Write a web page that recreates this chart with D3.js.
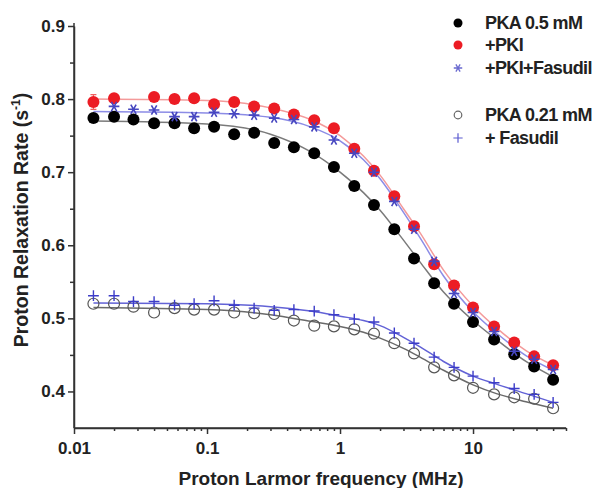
<!doctype html>
<html>
<head>
<meta charset="utf-8">
<style>
  body { margin: 0; background: #fff; }
  text { font-family: "Liberation Sans", Arial, sans-serif; font-weight: bold; fill: #222; }
  .axis path, .axis line { stroke: #333; stroke-width: 1.5; }
</style>
<script src="https://d3js.org/d3.v7.min.js"></script>
</head>
<body>
<svg width="598" height="488"></svg>
<script>
// frequencies (MHz) of the measured points
var freqs = [0.014, 0.02, 0.028, 0.04, 0.057, 0.08, 0.113, 0.16, 0.226, 0.32, 0.45, 0.64,
             0.9, 1.28, 1.8, 2.56, 3.6, 5.1, 7.2, 10, 14.4, 20.4, 28.8, 40];

// measured relaxation rates (null = no point)
var pka05   = [0.774, 0.776, 0.772, 0.767, 0.767, 0.760, 0.762, 0.752, 0.754, 0.740, 0.734, 0.726,
               0.707, 0.681, 0.655, 0.622, 0.582, 0.548, 0.520, 0.495, 0.471, 0.451, 0.434, 0.416];
var pki     = [0.796, 0.801, null, 0.803, 0.800, 0.801, 0.793, 0.796, 0.790, 0.787, 0.779, 0.771,
               0.760, 0.732, 0.702, 0.667, 0.626, 0.574, 0.545, 0.515, 0.489, 0.467, 0.448, 0.436];
var pkiErr  = [0.010, 0, 0, 0, 0, 0, 0, 0, 0, 0, 0, 0, 0, 0, 0, 0, 0, 0, 0, 0, 0, 0, 0, 0];
var pkiFas  = [null, 0.790, 0.786, 0.785, 0.776, 0.776, 0.782, 0.780, 0.778, 0.774, 0.772, 0.762,
               0.744, 0.726, 0.700, 0.660, 0.622, 0.578, 0.534, 0.508, 0.482, 0.455, 0.444, 0.430];
var pka021  = [0.520, 0.520, 0.516, 0.508, 0.514, 0.512, 0.512, 0.508, 0.507, 0.506, 0.497, 0.490,
               0.489, 0.485, 0.479, 0.466, 0.452, 0.433, 0.422, 0.405, 0.396, 0.392, 0.390, 0.377];
var fas     = [0.531, 0.531, 0.523, 0.523, 0.518, 0.520, 0.524, 0.518, 0.514, 0.511, 0.512, 0.510,
               0.505, 0.499, 0.495, 0.480, 0.466, 0.447, 0.433, 0.421, 0.412, 0.404, 0.396, 0.385];

// fitted curves
var fitFreqs  = [0.014, 0.1, 0.3, 0.6, 1, 1.5, 2, 3, 4, 6, 10, 15, 25, 40];
var fitPka05  = [0.770, 0.766, 0.752, 0.728, 0.700, 0.672, 0.648, 0.607, 0.577, 0.536, 0.497, 0.471, 0.441, 0.420];
var fitPki    = [0.800, 0.798, 0.788, 0.772, 0.750, 0.722, 0.696, 0.650, 0.617, 0.566, 0.517, 0.487, 0.456, 0.436];
var fitPkiFas = [0.783, 0.781, 0.775, 0.762, 0.743, 0.717, 0.691, 0.645, 0.610, 0.558, 0.509, 0.480, 0.449, 0.429];
var fitPka021 = [0.515, 0.512, 0.505, 0.496, 0.489, 0.481, 0.473, 0.459, 0.447, 0.429, 0.409, 0.397, 0.386, 0.377];
var fitFas    = [0.521, 0.520, 0.516, 0.510, 0.503, 0.497, 0.490, 0.474, 0.461, 0.441, 0.421, 0.410, 0.397, 0.385];

var xTicks = [0.01, 0.1, 1, 10];
var xTickLabels = ["0.01", "0.1", "1", "10"];
var yTicks = [0.4, 0.5, 0.6, 0.7, 0.8, 0.9];

var legendLabels = ["PKA 0.5 mM", "+PKI", "+PKI+Fasudil", "PKA 0.21 mM", "+ Fasudil"];

var svg = d3.select("svg");

var x = d3.scaleLog().domain([0.01, 50]).range([74, 566]);
var y = d3.scaleLinear().domain([0.35, 0.9]).range([428, 26]);

// minor ticks
var xMinor = [];
[0.01, 0.1, 1, 10].forEach(function(d) {
  for (var k = 2; k <= 9; k++) if (d * k <= 50) xMinor.push(d * k);
});
var yMinor = [0.45, 0.55, 0.65, 0.75, 0.85];

svg.append("g").attr("class", "axis")
   .attr("transform", "translate(0,428)")
   .call(d3.axisBottom(x).tickValues(xMinor).tickSize(3).tickSizeOuter(0).tickFormat(""));
var xa = svg.append("g").attr("class", "axis")
   .attr("transform", "translate(0,428)")
   .call(d3.axisBottom(x).tickValues(xTicks).tickSize(6).tickSizeOuter(0)
         .tickFormat(function(d, i) { return xTickLabels[i]; }));
xa.selectAll("text").attr("font-size", 17).attr("dy", "0.95em").attr("y", 10);
xa.select(".domain").attr("d", "M74,0H566");

svg.append("g").attr("class", "axis")
   .attr("transform", "translate(74,0)")
   .call(d3.axisLeft(y).tickValues(yMinor).tickSize(4).tickSizeOuter(0).tickFormat(""));
var ya = svg.append("g").attr("class", "axis")
   .attr("transform", "translate(74,0)")
   .call(d3.axisLeft(y).tickValues(yTicks).tickSize(6).tickSizeOuter(0).tickFormat(d3.format(".1f")));
ya.selectAll("text").attr("font-size", 17).attr("x", -9);
ya.select(".domain").attr("d", "M0,428V23");
svg.selectAll(".axis text").style("font-family", "'Liberation Sans', Arial, sans-serif").attr("fill", "#222");

// axis titles
svg.append("text")
   .attr("x", 321).attr("y", 485)
   .attr("text-anchor", "middle")
   .attr("font-size", 19)
   .text("Proton Larmor frequency (MHz)");

var yt = svg.append("text")
   .attr("transform", "translate(28,220) rotate(-90)")
   .attr("text-anchor", "middle")
   .attr("font-size", 19.5);
yt.append("tspan").text("Proton Relaxation Rate (s");
yt.append("tspan").attr("font-size", 12).attr("dy", -8).text("-1");
yt.append("tspan").attr("dy", 8).text(")");

// fitted lines
var line = d3.line()
  .x(function(d) { return x(d[0]); })
  .y(function(d) { return y(d[1]); })
  .curve(d3.curveMonotoneX);

function fitLine(vals, color) {
  svg.append("path")
     .datum(fitFreqs.map(function(f, i) { return [f, vals[i]]; }))
     .attr("d", line)
     .attr("fill", "none")
     .attr("stroke", color)
     .attr("stroke-width", 1.5);
}
fitLine(fitPka021, "#6a6a6a");
fitLine(fitFas, "#6262d6");
fitLine(fitPka05, "#7a7a7a");
fitLine(fitPki, "#f49a9a");
fitLine(fitPkiFas, "#8c8ce6");

function pts(vals) {
  return freqs.map(function(f, i) { return { f: f, v: vals[i], i: i }; })
              .filter(function(d) { return d.v !== null; });
}

// open circles
svg.append("g").selectAll("circle").data(pts(pka021)).enter().append("circle")
   .attr("cx", function(d) { return x(d.f); })
   .attr("cy", function(d) { return y(d.v); })
   .attr("r", 5.5)
   .attr("fill", "none").attr("stroke", "#555").attr("stroke-width", 1.2);

// plus
var plusSym = d3.symbol().type(d3.symbolPlus).size(40);
svg.append("g").selectAll("path").data(pts(fas)).enter().append("path")
   .attr("d", plusSym)
   .attr("transform", function(d) { return "translate(" + x(d.f) + "," + y(d.v) + ")"; })
   .attr("fill", "none").attr("stroke", "#3c3cc8").attr("stroke-width", 1.4);

// black filled
svg.append("g").selectAll("circle").data(pts(pka05)).enter().append("circle")
   .attr("cx", function(d) { return x(d.f); })
   .attr("cy", function(d) { return y(d.v); })
   .attr("r", 6)
   .attr("fill", "#000");

// red filled with error bars
var red = pts(pki);
svg.append("g").selectAll("path").data(red.filter(function(d) { return pkiErr[d.i] > 0; }))
   .enter().append("path")
   .attr("d", function(d) {
     var cx = x(d.f), y0 = y(d.v - pkiErr[d.i]), y1 = y(d.v + pkiErr[d.i]);
     return "M" + cx + "," + y0 + "V" + y1 + "M" + (cx - 3) + "," + y0 + "h6M" + (cx - 3) + "," + y1 + "h6";
   })
   .attr("stroke", "#f06060").attr("stroke-width", 1.2).attr("fill", "none");
svg.append("g").selectAll("circle").data(red).enter().append("circle")
   .attr("cx", function(d) { return x(d.f); })
   .attr("cy", function(d) { return y(d.v); })
   .attr("r", 6)
   .attr("fill", "#ec1c24");

// stars
var starSym = d3.symbol().type(d3.symbolAsterisk).size(80);
svg.append("g").selectAll("path").data(pts(pkiFas)).enter().append("path")
   .attr("d", starSym)
   .attr("transform", function(d) { return "translate(" + x(d.f) + "," + y(d.v) + ") rotate(90)"; })
   .attr("fill", "none").attr("stroke", "#4646c0").attr("stroke-width", 1.6);

// legend
var legY = [23, 45, 68, 115, 138];
var lg = svg.append("g");
lg.append("circle").attr("cx", 458).attr("cy", legY[0]).attr("r", 4.5).attr("fill", "#000");
lg.append("circle").attr("cx", 458).attr("cy", legY[1]).attr("r", 4.5).attr("fill", "#ec1c24");
lg.append("path").attr("d", d3.symbol().type(d3.symbolAsterisk).size(50))
  .attr("transform", "translate(458," + legY[2] + ") rotate(90)")
  .attr("fill", "none").attr("stroke", "#6a6ad0").attr("stroke-width", 1.3);
lg.append("circle").attr("cx", 458).attr("cy", legY[3]).attr("r", 3.8)
  .attr("fill", "none").attr("stroke", "#666").attr("stroke-width", 1.2);
lg.append("path").attr("d", d3.symbol().type(d3.symbolPlus).size(30))
  .attr("transform", "translate(458," + legY[4] + ")")
  .attr("fill", "none").attr("stroke", "#5a5ad0").attr("stroke-width", 1.2);
lg.selectAll("text").data(legendLabels).enter().append("text")
  .attr("x", 485)
  .attr("y", function(d, i) { return legY[i] + 6; })
  .attr("font-size", 18)
  .attr("letter-spacing", -0.6)
  .text(function(d) { return d; });
</script>
</body>
</html>
